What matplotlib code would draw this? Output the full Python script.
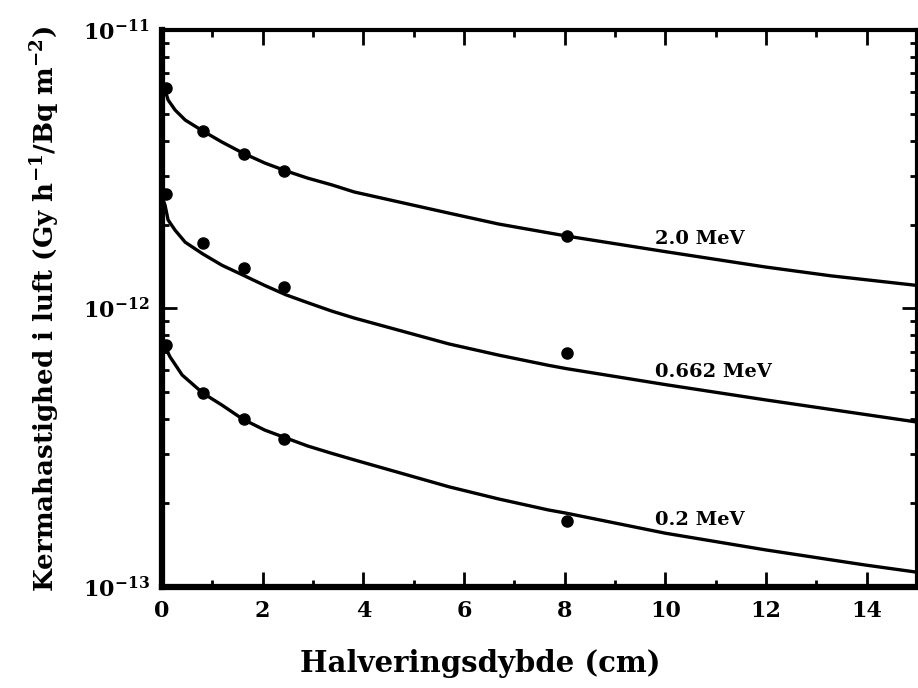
import numpy as np
import matplotlib
matplotlib.use("Agg")
import matplotlib.pyplot as plt
from matplotlib.ticker import FixedLocator, MultipleLocator, NullFormatter

plt.rcParams['font.family'] = 'DejaVu Serif'
plt.rcParams['font.weight'] = 'bold'
plt.rcParams['mathtext.fontset'] = 'dejavuserif'
plt.rcParams['mathtext.default'] = 'bf'

# measured points (halveringsdybde in cm, kerma rate)
x_pts = [0.08, 0.81, 1.62, 2.43, 8.05]
y_pts_20 = [6.19e-12, 4.34e-12, 3.59e-12, 3.12e-12, 1.82e-12]
y_pts_0662 = [2.58e-12, 1.72e-12, 1.40e-12, 1.19e-12, 6.92e-13]
y_pts_02 = [7.40e-13, 4.98e-13, 4.01e-13, 3.40e-13, 1.73e-13]

# calculated curves
x_20 = [0.0, 0.06, 0.12, 0.26, 0.46, 0.81, 1.19, 1.60, 2.04, 2.46, 2.89, 3.37,
        3.82, 5.70, 6.69, 8.04, 10.0, 11.98, 13.29, 15.0]
y_20 = [6.24e-12, 6.09e-12, 5.61e-12, 5.16e-12, 4.75e-12, 4.34e-12, 3.96e-12,
        3.62e-12, 3.33e-12, 3.12e-12, 2.94e-12, 2.78e-12, 2.62e-12, 2.20e-12,
        2.01e-12, 1.82e-12, 1.60e-12, 1.41e-12, 1.31e-12, 1.21e-12]
x_0662 = [0.0, 0.06, 0.12, 0.26, 0.46, 0.81, 1.19, 1.60, 2.04, 2.46, 2.89, 3.37,
          3.82, 5.70, 6.69, 7.68, 8.04, 10.0, 11.98, 15.0]
y_0662 = [2.51e-12, 2.35e-12, 2.08e-12, 1.91e-12, 1.73e-12, 1.57e-12, 1.43e-12,
          1.32e-12, 1.21e-12, 1.12e-12, 1.05e-12, 9.79e-13, 9.24e-13, 7.46e-13,
          6.80e-13, 6.25e-13, 6.08e-13, 5.33e-13, 4.70e-13, 3.91e-13]
x_02 = [0.0, 0.06, 0.16, 0.40, 0.81, 1.19, 1.60, 2.04, 2.46, 2.89, 3.37, 3.82,
        5.70, 6.69, 7.68, 8.04, 10.0, 11.98, 13.96, 15.0]
y_02 = [7.71e-13, 7.27e-13, 6.70e-13, 5.77e-13, 4.97e-13, 4.50e-13, 4.01e-13,
        3.66e-13, 3.43e-13, 3.21e-13, 3.02e-13, 2.86e-13, 2.29e-13, 2.07e-13,
        1.89e-13, 1.84e-13, 1.56e-13, 1.36e-13, 1.20e-13, 1.13e-13]

labels = ['2.0 MeV', '0.662 MeV', '0.2 MeV']
label_x = [9.8, 9.8, 9.8]
label_y = [1.78e-12, 5.91e-13, 1.74e-13]

fig = plt.figure(figsize=(9.18, 6.88), dpi=100)
ax = fig.add_axes([0.1765, 0.1468, 0.8225, 0.8096])

for xc, yc, yp in [(x_20, y_20, y_pts_20), (x_0662, y_0662, y_pts_0662), (x_02, y_02, y_pts_02)]:
    ax.plot(xc, yc, color='black', linewidth=2.4, solid_joinstyle='round')
    ax.plot(x_pts, yp, 'o', color='black', markersize=8, clip_on=False)

for lab, lx, ly in zip(labels, label_x, label_y):
    ax.text(lx, ly, lab, fontsize=14, fontweight='bold', va='center', ha='left')

ax.set_yscale('log')
ax.set_xlim(0, 15)
ax.set_ylim(1e-13, 1e-11)
ax.xaxis.set_major_locator(MultipleLocator(2))
ax.xaxis.set_minor_locator(MultipleLocator(1))
ax.yaxis.set_major_locator(FixedLocator([1e-13, 1e-12, 1e-11]))
minor_y = [m * 10.0 ** e for e in (-13, -12) for m in range(2, 10)]
ax.yaxis.set_minor_locator(FixedLocator(minor_y))
ax.yaxis.set_minor_formatter(NullFormatter())

ax.tick_params(which='both', direction='in', top=True, right=True, width=2)
ax.tick_params(which='major', length=11, labelsize=16, pad=9)
ax.tick_params(which='minor', length=5)
for side in ['left', 'bottom']:
    ax.spines[side].set_linewidth(4.5)
for side in ['top', 'right']:
    ax.spines[side].set_linewidth(3)

ax.set_xlabel('Halveringsdybde (cm)', fontsize=21, fontweight='bold', labelpad=20)
ax.xaxis.label.set_x(0.422)
ax.set_ylabel(r'Kermahastighed i luft (Gy h$^{-1}$/Bq m$^{-2}$)', fontsize=18.8,
              fontweight='bold', labelpad=15)

fig.savefig('out.png', dpi=100)
